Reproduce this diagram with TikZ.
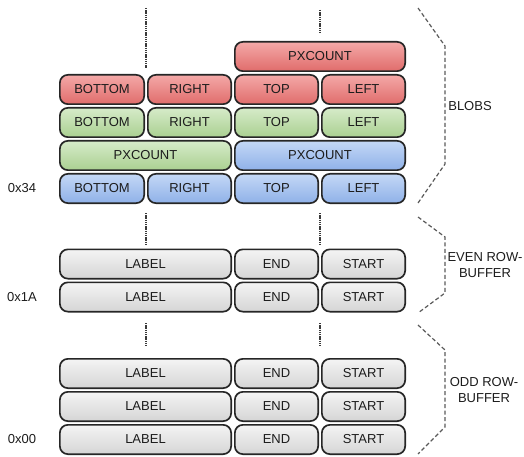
\documentclass[tikz,border=0pt]{standalone}
\usepackage{fontspec}
\setmainfont{Liberation Sans}
\definecolor{cellline}{HTML}{262626}
\definecolor{celltext}{HTML}{1C1C1C}
\definecolor{redtop}{HTML}{F4A9A8}
\definecolor{redbot}{HTML}{E06C6B}
\definecolor{greentop}{HTML}{D6EBC9}
\definecolor{greenbot}{HTML}{AAD091}
\definecolor{bluetop}{HTML}{C4D8F6}
\definecolor{bluebot}{HTML}{8FB1E8}
\definecolor{graytop}{HTML}{F4F4F4}
\definecolor{graybot}{HTML}{D5D5D5}
\definecolor{dotgray}{HTML}{3A3A3A}
\definecolor{bracegray}{HTML}{5A5A5A}
\begin{document}
\begin{tikzpicture}[x=1pt,y=-1pt,
  every node/.style={font=\fontsize{13}{15.5}\selectfont, text=celltext},
  cell/.style={draw=cellline, line width=1.7pt, rounded corners=8pt,
    minimum height=29.3pt, inner sep=0pt},
  narrow/.style={cell, minimum width=83.3pt},
  first/.style={cell, minimum width=84.3pt},
  wide/.style={cell, minimum width=170.3pt},
  widel/.style={cell, minimum width=171.3pt},
  redcell/.style={top color=redtop, bottom color=redbot},
  greencell/.style={top color=greentop, bottom color=greenbot},
  bluecell/.style={top color=bluetop, bottom color=bluebot},
  graycell/.style={top color=graytop, bottom color=graybot},
  gap/.style={draw=dotgray, line width=2.6pt, dash pattern=on 1.4pt off 0.8pt},
  bracket/.style={draw=bracegray, line width=1.2pt, dash pattern=on 4pt off 2.5pt},
  addr/.style={anchor=center},
  side/.style={align=center, anchor=center}]
\useasboundingbox (0,0) rectangle (524,457);

% ---- blob records ----
\node[wide, redcell]  (rpx) at (320,56.5) {PXCOUNT};
\node[first, redcell]  (rbot) at (102,89.5)   {BOTTOM};
\node[narrow, redcell] (rrig) at (189.5,89.5) {RIGHT};
\node[narrow, redcell] (rtop) at (276.5,89.5) {TOP};
\node[narrow, redcell] (rlef) at (363.5,89.5) {LEFT};

\node[first, greencell]  (gbot) at (102,122.5)   {BOTTOM};
\node[narrow, greencell] (grig) at (189.5,122.5) {RIGHT};
\node[narrow, greencell] (gtop) at (276.5,122.5) {TOP};
\node[narrow, greencell] (glef) at (363.5,122.5) {LEFT};

\node[widel, greencell] (gpx) at (145.5,155.5) {PXCOUNT};
\node[wide, bluecell] (bpx) at (320,155.5) {PXCOUNT};

\node[first, bluecell]  (bbot) at (102,188.5)   {BOTTOM};
\node[narrow, bluecell] (brig) at (189.5,188.5) {RIGHT};
\node[narrow, bluecell] (btop) at (276.5,188.5) {TOP};
\node[narrow, bluecell] (blef) at (363.5,188.5) {LEFT};

% ---- even row buffer ----
\node[widel, graycell] (el1) at (145.5,264) {LABEL};
\node[narrow, graycell] (ee1) at (276.5,264) {END};
\node[narrow, graycell] (es1) at (363.5,264) {START};
\node[widel, graycell] (el2) at (145.5,297) {LABEL};
\node[narrow, graycell] (ee2) at (276.5,297) {END};
\node[narrow, graycell] (es2) at (363.5,297) {START};

% ---- odd row buffer ----
\node[widel, graycell] (ol1) at (145.5,373.5) {LABEL};
\node[narrow, graycell] (oe1) at (276.5,373.5) {END};
\node[narrow, graycell] (os1) at (363.5,373.5) {START};
\node[widel, graycell] (ol2) at (145.5,406.5) {LABEL};
\node[narrow, graycell] (oe2) at (276.5,406.5) {END};
\node[narrow, graycell] (os2) at (363.5,406.5) {START};
\node[widel, graycell] (ol3) at (145.5,439.5) {LABEL};
\node[narrow, graycell] (oe3) at (276.5,439.5) {END};
\node[narrow, graycell] (os3) at (363.5,439.5) {START};

% ---- addresses ----
\node[addr] (a34) at (22,188.5) {0x34};
\node[addr] (a1a) at (22,297) {0x1A};
\node[addr] (a00) at (22,439.5) {0x00};

% ---- continuation marks ----
\coordinate (t1a) at (146,8);   \coordinate (t1b) at (146,68);
\coordinate (t2a) at (320,10);  \coordinate (t2b) at (320,34);
\coordinate (m1a) at (146,213); \coordinate (m1b) at (146,245);
\coordinate (m2a) at (320,213); \coordinate (m2b) at (320,245);
\coordinate (l1a) at (146,323); \coordinate (l1b) at (146,347);
\coordinate (l2a) at (320,323); \coordinate (l2b) at (320,347);
\draw[gap] (t1a) -- (t1b);
\draw[gap] (t2a) -- (t2b);
\draw[gap] (m1a) -- (m1b);
\draw[gap] (m2a) -- (m2b);
\draw[gap] (l1a) -- (l1b);
\draw[gap] (l2a) -- (l2b);

% ---- section brackets ----
\draw[bracket] (418,8) -- (445,46) -- (445,164) -- (418,203);
\draw[bracket] (418,217) -- (445,237) -- (445,293) -- (418,313);
\draw[bracket] (418,325) -- (445,350) -- (445,427) -- (418,454);

\node[side] (blobs) at (470,106) {BLOBS};
\node[side] (even) at (485,265) {EVEN ROW-\\BUFFER};
\node[side] (odd) at (484,390) {ODD ROW-\\BUFFER};
\end{tikzpicture}
\end{document}
